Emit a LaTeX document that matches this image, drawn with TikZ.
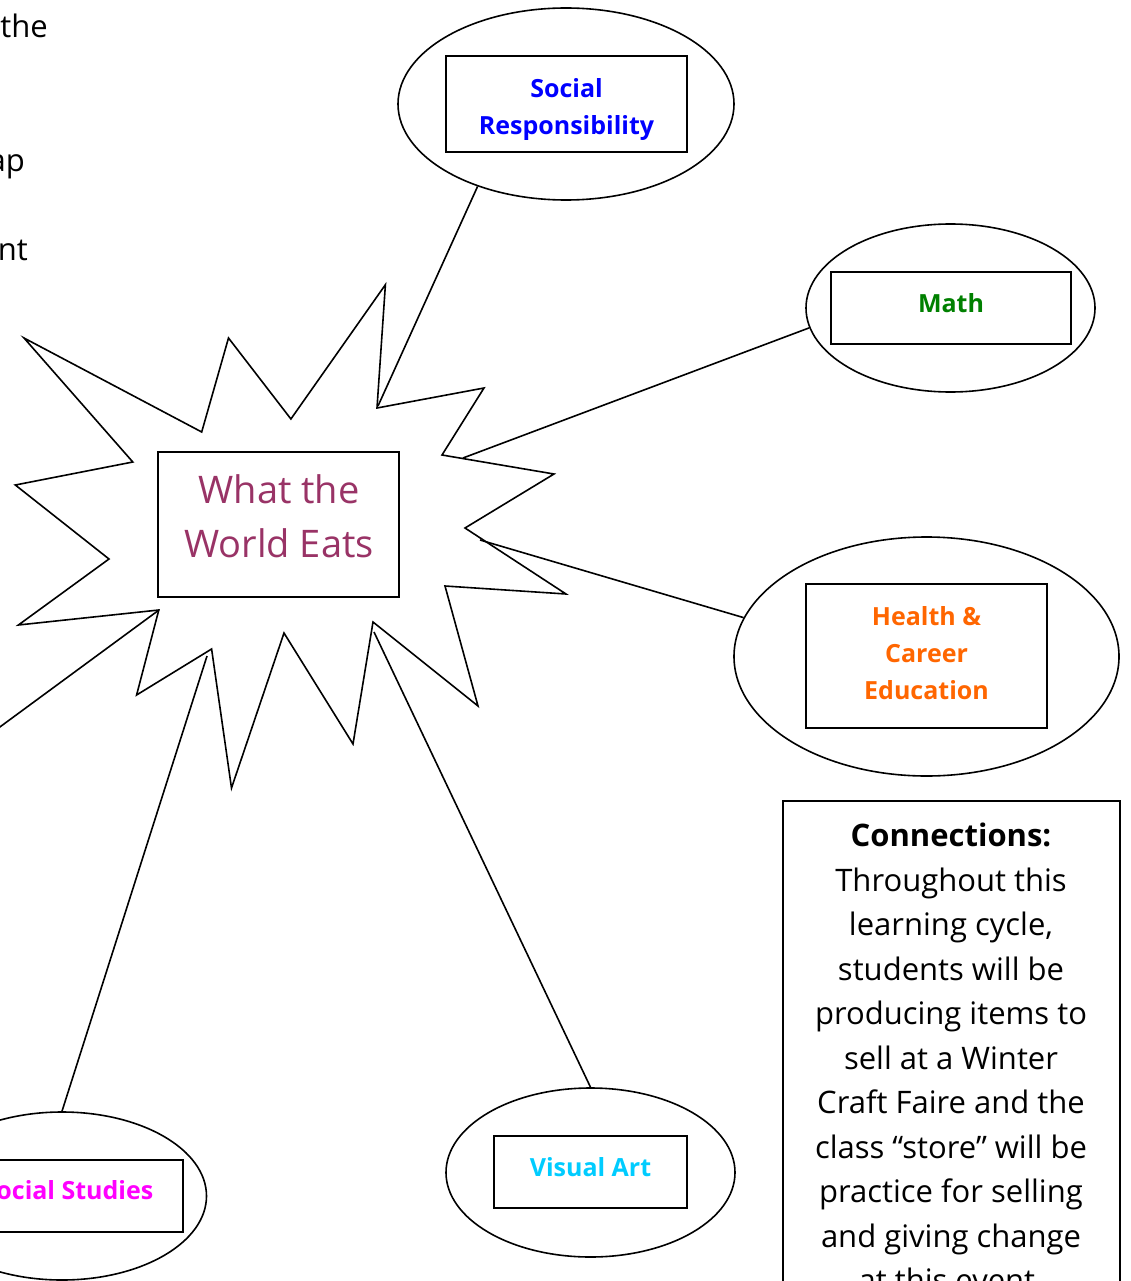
\documentclass[tikz,border=0pt]{standalone}
\usepackage{fontspec}
\setmainfont{Open Sans}
\usetikzlibrary{shapes.geometric}
\definecolor{srblue}{RGB}{0,0,255}
\definecolor{mathgreen}{RGB}{0,128,0}
\definecolor{hcorange}{RGB}{255,102,0}
\definecolor{vacyan}{RGB}{0,204,255}
\definecolor{ssmagenta}{RGB}{255,0,255}
\definecolor{titlepurple}{RGB}{153,51,102}
\tikzset{
  oval/.style={draw, ellipse, inner sep=0pt, line width=1.6pt},
  subjbox/.style={draw, rectangle, inner sep=0pt, line width=1.6pt},
  subjtext/.style={inner sep=0pt, align=center, font=\fontsize{25}{37}\selectfont\bfseries},
  link/.style={line width=1.6pt},
  bodytext/.style={inner sep=0pt, align=center, font=\fontsize{31}{44.5}\selectfont}
}
\begin{document}
\begin{tikzpicture}[x=1pt,y=-1pt]
\useasboundingbox (0,0) rectangle (1130,1281);
\clip (0,0) rectangle (1130,1281);
\fill[white] (0,0) rectangle (1130,1281);

% left-edge text fragments
\node[bodytext, anchor=base east] (fragA) at (48,38) {the};
\node[bodytext, anchor=base east] (fragB) at (25,172) {ap};
\node[bodytext, anchor=base east] (fragC) at (28,261) {nt};

% star outline
\coordinate (s1) at (385.4,284.7);
\coordinate (s2) at (377,408);
\coordinate (s3) at (484,388);
\coordinate (s4) at (442,455);
\coordinate (s5) at (554,474);
\coordinate (s6) at (465,528);
\coordinate (s7) at (566,594);
\coordinate (s8) at (445,586);
\coordinate (s9) at (478,706);
\coordinate (s10) at (373,622);
\coordinate (s11) at (353,744);
\coordinate (s12) at (284,633);
\coordinate (s13) at (231.5,788);
\coordinate (s14) at (211.6,649);
\coordinate (s15) at (136.6,695);
\coordinate (s16) at (158.8,610);
\coordinate (s17) at (18.4,625);
\coordinate (s18) at (109,559);
\coordinate (s19) at (15.3,485);
\coordinate (s20) at (132.8,462);
\coordinate (s21) at (24,338);
\coordinate (s22) at (201.7,432);
\coordinate (s23) at (228.5,338);
\coordinate (s24) at (290.9,419);
\draw[line width=1.6pt, line join=miter]
  (s1) -- (s2) -- (s3) -- (s4) -- (s5) -- (s6) -- (s7) -- (s8) -- (s9) -- (s10)
  -- (s11) -- (s12) -- (s13) -- (s14) -- (s15) -- (s16) -- (s17) -- (s18) -- (s19)
  -- (s20) -- (s21) -- (s22) -- (s23) -- (s24) -- cycle;

% central box
\node[draw, rectangle, line width=1.6pt, minimum width=241pt, minimum height=145pt, inner sep=0pt]
  (centre) at (278.5,524.5) {};
\node[inner sep=0pt, align=center, text=titlepurple, font=\fontsize{38}{54}\selectfont]
  (centretext) at (279,516.5) {What the\\World Eats};

% subject ovals
\node[oval, minimum width=336pt, minimum height=192pt] (srE) at (566,104) {};
\node[subjbox, minimum width=241pt, minimum height=96pt] (srB) at (566.5,104) {};
\node[subjtext, text=srblue] (srT) at (566.5,110) {Social\\Responsibility};

\node[oval, minimum width=289pt, minimum height=168pt] (mE) at (950.5,308) {};
\node[subjbox, minimum width=240pt, minimum height=72pt] (mB) at (951,308) {};
\node[subjtext, text=mathgreen] (mT) at (951,303) {Math};

\node[oval, minimum width=385pt, minimum height=239pt] (hE) at (926.5,656.5) {};
\node[subjbox, minimum width=241pt, minimum height=144pt] (hB) at (926.5,656) {};
\node[subjtext, text=hcorange] (hT) at (926.5,653) {Health \&\\Career\\Education};

\node[oval, minimum width=289pt, minimum height=169pt] (vE) at (590.5,1172.5) {};
\node[subjbox, minimum width=193pt, minimum height=72pt] (vB) at (590.5,1172) {};
\node[subjtext, text=vacyan] (vT) at (590.5,1167) {Visual Art};

\node[oval, minimum width=289pt, minimum height=168pt] (ssE) at (62,1196) {};
\node[subjbox, minimum width=242pt, minimum height=72pt] (ssB) at (62,1196) {};
\node[subjtext, text=ssmagenta] (ssT) at (68,1190) {Social Studies};

% connector start points on the star
\coordinate (cSR) at (378,406);
\coordinate (cM) at (463,458);
\coordinate (cH) at (480,540);
\coordinate (cVA) at (374,632);
\coordinate (cSS) at (207,656);
\coordinate (cL) at (159,610);
\coordinate (offL) at (-60,771);

\draw[link] (cSR) -- (srE.223.6);
\draw[link] (cM) -- (mE.188.2);
\draw[link] (cH) -- (hE.168.9);
\draw[link] (cVA) -- (vE.north);
\draw[link] (cSS) -- (ssE.north);
\draw[link] (cL) -- (offL);

% connections box
\node[draw, rectangle, line width=1.6pt, anchor=north west, minimum width=337pt, minimum height=540pt, inner sep=0pt]
  (conn) at (782,800) {};
\node[bodytext, anchor=north] (conntext) at (951,823) {\textbf{Connections:}\\Throughout this\\learning cycle,\\students will be\\producing items to\\sell at a Winter\\Craft Faire and the\\class “store” will be\\practice for selling\\and giving change\\at this event.};
\end{tikzpicture}
\end{document}
